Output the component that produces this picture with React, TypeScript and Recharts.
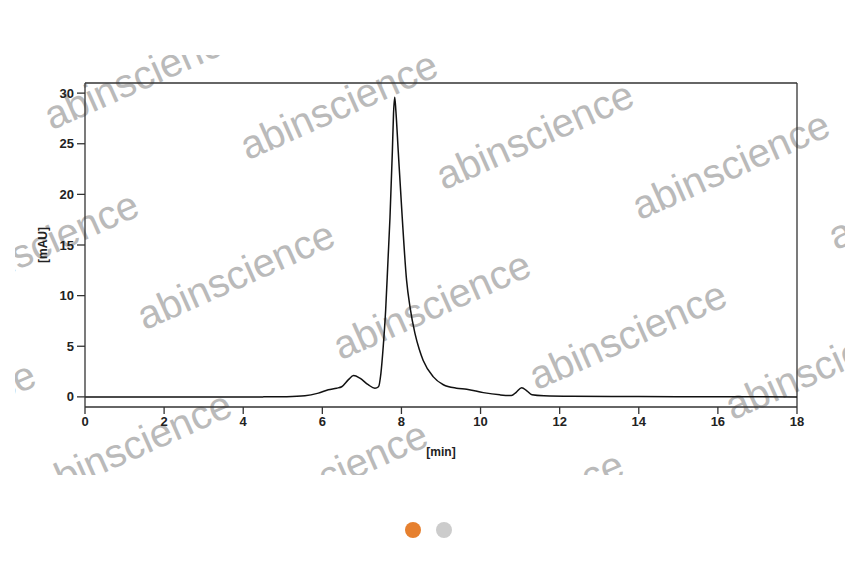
import React from 'react';
import { LineChart, Line, XAxis, YAxis, ReferenceLine } from 'recharts';

// retention time [min] and absorbance [mAU]
const timeMin = [
  0, 4.5, 5.1, 5.56, 5.9, 6.15, 6.36, 6.49, 6.66, 6.79, 6.95, 7.16, 7.33, 7.42,
  7.48, 7.54, 7.6, 7.66, 7.71, 7.77, 7.8, 7.83, 7.86, 7.92, 8.02, 8.13, 8.22,
  8.34, 8.45, 8.55, 8.8, 9.06, 9.39, 9.65, 10.07, 10.49, 10.78, 10.9, 11.04,
  11.17, 11.3, 11.6, 12.3, 14, 16, 18,
];
const absorbance = [
  0, 0, 0.02, 0.1, 0.37, 0.7, 0.86, 1.0, 1.7, 2.1, 1.85, 1.2, 0.86, 1.0,
  2.3, 5.0, 8.5, 13.5, 17.7, 24.2, 28.0, 29.6, 28.2, 24.2, 17.7, 11.5, 8.8,
  6.3, 4.7, 3.6, 2.0, 1.2, 0.86, 0.76, 0.42, 0.2, 0.13, 0.45, 0.9,
  0.6, 0.2, 0.1, 0.05, 0.03, 0.01, 0,
];

const xTicks = [0, 2, 4, 6, 8, 10, 12, 14, 16, 18];
const yTicks = [0, 5, 10, 15, 20, 25, 30];

const data = timeMin.map((t, i) => ({ t, mAU: absorbance[i] }));

const FONT = '"Liberation Sans", Arial, Helvetica, sans-serif';
const AXIS = '#333';
const tickStyle = { fontSize: 13, fontWeight: 700, fill: '#222', fontFamily: FONT };

// tiled watermark, only the tiles that show inside the image area
const tiles: Array<[number, number]> = [
  [0, 0], [0, 1], [0, 2], [0, 3], [0, 4],
  [1, 0], [1, 1], [1, 2], [1, 3], [1, 4],
  [2, 0], [2, 1], [2, 2], [2, 3],
];
const marks = tiles.map(([r, c]) => [144 - 103 * r + 196 * c, 78 + 170 * r + 30 * c]);

export default function App() {
  return (
    <div style={{ position: 'absolute', left: 0, top: 0, width: 866, height: 568, background: '#fff' }}>
      <svg width={866} height={568} style={{ position: 'absolute', left: 0, top: 0 }}>
        <defs>
          <clipPath id="wm">
            <rect x={15} y={55} width={830} height={420} />
          </clipPath>
        </defs>
        <g clipPath="url(#wm)">
          {marks.map(([x, y], i) => (
            <text
              key={i}
              x={x}
              y={y}
              textAnchor="middle"
              dominantBaseline="middle"
              transform={`rotate(-24 ${x} ${y})`}
              fontFamily={FONT}
              fontSize={40}
              fill="#bababa"
            >
              abinscience
            </text>
          ))}
        </g>
        <text x={441} y={456} textAnchor="middle" fontFamily={FONT} fontSize={12} fontWeight={700} fill="#222">
          [min]
        </text>
        <text
          x={47}
          y={245}
          textAnchor="middle"
          transform="rotate(-90 47 245)"
          fontFamily={FONT}
          fontSize={12}
          fontWeight={700}
          fill="#222"
        >
          [mAU]
        </text>
      </svg>
      <div style={{ position: 'absolute', left: 0, top: 0 }}>
        <LineChart width={866} height={568} data={data} margin={{ top: 83, right: 69, bottom: 131, left: 45 }}>
          <XAxis
            dataKey="t"
            type="number"
            domain={[0, 18]}
            ticks={xTicks}
            height={30}
            tickSize={7}
            tickMargin={3}
            tick={tickStyle}
            stroke={AXIS}
            strokeWidth={1.3}
            allowDataOverflow
          />
          <YAxis
            type="number"
            domain={[-1, 31]}
            ticks={yTicks}
            width={40}
            tickSize={8}
            tickMargin={3}
            tick={tickStyle}
            stroke={AXIS}
            strokeWidth={1.3}
            allowDataOverflow
          />
          {/* box frame: top and right edges */}
          <ReferenceLine y={31} stroke={AXIS} strokeWidth={1.3} />
          <ReferenceLine x={18} stroke={AXIS} strokeWidth={1.3} />
          <Line
            type="monotone"
            dataKey="mAU"
            stroke="#111"
            strokeWidth={1.5}
            dot={false}
            isAnimationActive={false}
          />
        </LineChart>
      </div>
      <div style={{ position: 'absolute', left: 405, top: 522, width: 16, height: 16, borderRadius: 8, background: '#e6802f' }} />
      <div style={{ position: 'absolute', left: 436, top: 522, width: 16, height: 16, borderRadius: 8, background: '#cccccc' }} />
    </div>
  );
}
